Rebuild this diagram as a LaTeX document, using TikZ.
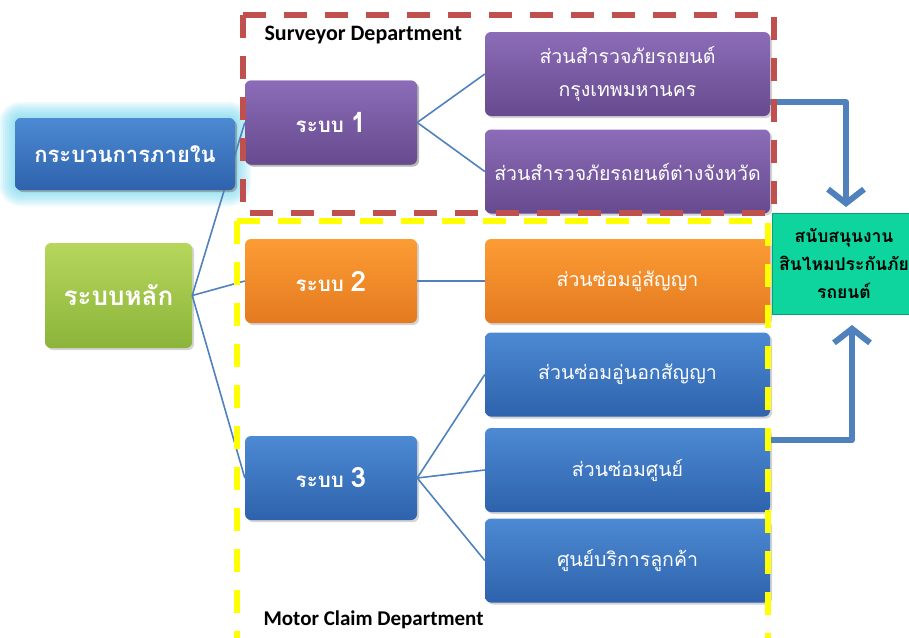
\documentclass[tikz,border=0pt]{standalone}
\usepackage{fontspec}
\setmainfont{Carlito}
\newfontfamily\thai[Script=Thai]{Loma}
\usetikzlibrary{arrows.meta,shadows}

\definecolor{linkblue}{RGB}{79,129,189}
\definecolor{dashred}{RGB}{192,80,77}
\definecolor{dashyellow}{RGB}{255,255,0}
\definecolor{glowcyan}{RGB}{110,212,236}

\tikzset{
  card/.style={rounded corners=6pt, inner sep=2pt, align=center, text=white,
    drop shadow={shadow xshift=2pt, shadow yshift=-2pt, opacity=0.35}},
  bluecard/.style={card, top color={rgb,255:red,76;green,138;blue,211}, bottom color={rgb,255:red,46;green,98;blue,172}},
  purplecard/.style={card, top color={rgb,255:red,140;green,108;blue,184}, bottom color={rgb,255:red,102;green,74;blue,142}},
  orangecard/.style={card, top color={rgb,255:red,252;green,156;blue,52}, bottom color={rgb,255:red,228;green,122;blue,32}},
  greencard/.style={card, top color={rgb,255:red,182;green,214;blue,92}, bottom color={rgb,255:red,140;green,180;blue,58}},
  level/.style={minimum width=172pt, minimum height=84pt, font=\thai\bfseries\fontsize{20.5}{24}\selectfont},
  leaf/.style={minimum width=285pt, minimum height=84pt, font=\thai\fontsize{19.5}{33}\selectfont},
  link/.style={draw=linkblue, line width=1.6pt},
  flow/.style={draw=linkblue, line width=6pt, line join=round,
    -{Straight Barb[length=14pt, width=36pt, line width=6pt]}},
  teamline/.style={line width=5.5pt, dash pattern=on 23pt off 18pt},
  teamlabel/.style={anchor=west, font=\bfseries, text=black}
}

\begin{document}
\begin{tikzpicture}[x=1pt, y=-1pt]
\useasboundingbox (0,0) rectangle (909,637);

% glow around the internal-process card
\foreach \g in {16,14,...,2}{
  \fill[glowcyan, opacity=0.12, rounded corners=6pt+\g pt]
    (15-\g,118-\g) rectangle (235+\g,190+\g);
}

% cards
\node[bluecard, minimum width=220pt, minimum height=72pt,
      font=\thai\bfseries\fontsize{22}{26}\selectfont] (proc) at (125,154) {กระบวนการภายใน};
\node[greencard, minimum width=147pt, minimum height=105pt,
      font=\thai\bfseries\fontsize{26}{30}\selectfont] (core) at (118.5,295.5) {ระบบหลัก};

\node[purplecard, level] (sys1) at (331,122.5) {ระบบ {\fontsize{28}{30}\selectfont 1}};
\node[orangecard, level] (sys2) at (331,281) {ระบบ {\fontsize{28}{30}\selectfont 2}};
\node[bluecard, level] (sys3) at (331,478) {ระบบ {\fontsize{28}{30}\selectfont 3}};

\node[purplecard, leaf] (bkk) at (627.5,74) {ส่วนสำรวจภัยรถยนต์\\กรุงเทพมหานคร};
\node[purplecard, leaf] (prov) at (627.5,171.5) {ส่วนสำรวจภัยรถยนต์ต่างจังหวัด};
\node[orangecard, leaf] (contract) at (627.5,281) {ส่วนซ่อมอู่สัญญา};
\node[bluecard, leaf] (noncontract) at (627.5,374.5) {ส่วนซ่อมอู่นอกสัญญา};
\node[bluecard, leaf] (center) at (627.5,470) {ส่วนซ่อมศูนย์};
\node[bluecard, leaf] (service) at (627.5,560.5) {ศูนย์บริการลูกค้า};

\node[minimum width=144pt, minimum height=101pt, inner sep=0pt, align=center,
      fill={rgb,255:red,14;green,212;blue,158}, draw={rgb,255:red,10;green,160;blue,118}, line width=1pt,
      font=\thai\bfseries\fontsize{17.5}{28}\selectfont, text=black] (support) at (844,263.5)
      {สนับสนุนงาน\\สินไหมประกันภัย\\รถยนต์};

% tree connectors
\draw[link] (core.east) -- (sys1.west);
\draw[link] (core.east) -- (sys2.west);
\draw[link] (core.east) -- (sys3.west);
\draw[link] (sys1.east) -- (bkk.west);
\draw[link] (sys1.east) -- (prov.west);
\draw[link] (sys2.east) -- (contract.west);
\draw[link] (sys3.east) -- (noncontract.west);
\draw[link] (sys3.east) -- (center.west);
\draw[link] (sys3.east) -- (service.west);

% the internal-process card and system 1 sit above the long connector
\node[bluecard, minimum width=220pt, minimum height=72pt,
      font=\thai\bfseries\fontsize{22}{26}\selectfont] at (125,154) {กระบวนการภายใน};
\node[purplecard, level] at (331,122.5) {ระบบ {\fontsize{28}{30}\selectfont 1}};

% flows into the support unit
\coordinate (topbend) at (846,102);
\coordinate (botbend) at (852,440);
\draw[flow] (bkk.east |- topbend) -- (topbend) -- (846,207);
\draw[flow] (center.east |- botbend) -- (botbend) -- (852,325);

% department frames
\draw[teamline, dashred] (243,15) rectangle (774,213);
\draw[teamline, dashyellow] (237,221) -- (768,221) -- (768,640);
\draw[teamline, dashyellow] (237,221) -- (237,640);

\node[teamlabel, font=\bfseries\fontsize{22}{24}\selectfont] (survey) at (261,35) {Surveyor Department};
\node[teamlabel, font=\bfseries\fontsize{21}{24}\selectfont] (motor) at (260,620) {Motor Claim Department};
\end{tikzpicture}
\end{document}
